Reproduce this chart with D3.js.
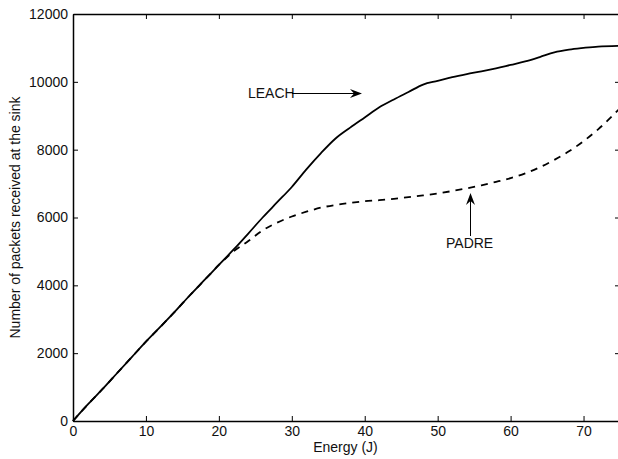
<!DOCTYPE html>
<html>
<head>
<meta charset="utf-8">
<script src="https://cdn.jsdelivr.net/npm/d3@7"></script>
<style>
  body { margin: 0; background: #fff; }
  svg { display: block; }
  text { font-family: "Liberation Sans", Arial, Helvetica, sans-serif; font-size: 14px; fill: #111; }
</style>
</head>
<body>
<svg id="chart" width="618" height="459"></svg>
<script>
// values
var energy = [0, 2, 4, 6, 8, 10, 12, 14, 16, 18, 20, 22, 24, 26, 28, 30, 32, 34, 36, 38, 40,
              42, 44, 46, 48, 50, 52, 54, 56, 58, 60, 62, 64, 66, 68, 70, 72, 75];
var leach  = [0, 480, 930, 1400, 1870, 2340, 2780, 3230, 3700, 4150, 4600, 5050, 5520, 6000, 6450, 6900, 7420, 7900, 8330, 8650, 8950,
              9250, 9480, 9700, 9920, 10030, 10140, 10230, 10310, 10400, 10500, 10600, 10730, 10870, 10950, 11000, 11040, 11060];
var padre  = [0, 480, 930, 1400, 1870, 2340, 2780, 3230, 3700, 4150, 4600, 5000, 5300, 5620, 5850, 6030, 6170, 6290, 6370, 6430, 6480,
              6510, 6550, 6600, 6650, 6710, 6780, 6860, 6950, 7050, 7160, 7300, 7480, 7700, 7950, 8250, 8600, 9220];
var xTicks = [0, 10, 20, 30, 40, 50, 60, 70];
var yTicks = [0, 2000, 4000, 6000, 8000, 10000, 12000];

var mLeft = 73, mTop = 14, mRight = 620, mBottom = 421;

var svg = d3.select("#chart");

var x = d3.scaleLinear().domain([0, 75]).range([mLeft, mRight]);
var y = d3.scaleLinear().domain([0, 12000]).range([mBottom, mTop]);

// axes, matlab style ticks pointing inward on all four sides
var axStyle = function(g) {
    g.select(".domain").attr("stroke", "#000").attr("stroke-width", 1.5);
    g.selectAll(".tick line").attr("stroke", "#000").attr("stroke-width", 1);
    g.attr("font-size", null).attr("font-family", null);
};

svg.append("g")
   .attr("transform", "translate(0," + mBottom + ")")
   .call(d3.axisBottom(x).tickValues(xTicks).tickSizeInner(-5).tickSizeOuter(0).tickPadding(5).tickFormat(d3.format("d")))
   .call(axStyle);

svg.append("g")
   .attr("transform", "translate(" + mLeft + ",0)")
   .call(d3.axisLeft(y).tickValues(yTicks).tickSizeInner(-5).tickSizeOuter(0).tickPadding(5).tickFormat(d3.format("d")))
   .call(axStyle);

svg.append("g")
   .attr("transform", "translate(0," + mTop + ")")
   .call(d3.axisTop(x).tickValues(xTicks).tickSizeInner(-5).tickSizeOuter(0).tickFormat(""))
   .call(axStyle);

svg.append("g")
   .attr("transform", "translate(" + mRight + ",0)")
   .call(d3.axisRight(y).tickValues(yTicks).tickSizeInner(-5).tickSizeOuter(0).tickFormat(""))
   .call(axStyle);

svg.selectAll(".tick text").attr("fill", "#111");

// curves
var line = d3.line()
    .x(function(d, i) { return x(energy[i]); })
    .y(function(d) { return y(d); })
    .curve(d3.curveMonotoneX);

svg.append("path")
   .datum(padre)
   .attr("d", line)
   .attr("fill", "none")
   .attr("stroke", "#000")
   .attr("stroke-width", 1.8)
   .attr("stroke-dasharray", "7,6");

svg.append("path")
   .datum(leach)
   .attr("d", line)
   .attr("fill", "none")
   .attr("stroke", "#000")
   .attr("stroke-width", 1.8);

// annotations
function arrowHead(tx, ty, angle) {
    svg.append("path")
       .attr("d", "M0,0 L-12,-4.5 L-8,0 L-12,4.5 Z")
       .attr("fill", "#000")
       .attr("transform", "translate(" + tx + "," + ty + ") rotate(" + angle + ")");
}

svg.append("text").attr("x", 248).attr("y", 98).text("LEACH");
svg.append("line")
   .attr("x1", 292).attr("y1", 93.5).attr("x2", 356).attr("y2", 93.5)
   .attr("stroke", "#000").attr("stroke-width", 1);
arrowHead(362, 93.5, 0);

svg.append("text").attr("x", 446).attr("y", 248).text("PADRE");
svg.append("line")
   .attr("x1", 470.5).attr("y1", 236).attr("x2", 470.5).attr("y2", 199)
   .attr("stroke", "#000").attr("stroke-width", 1);
arrowHead(470.5, 193, -90);

// axis titles
svg.append("text")
   .attr("x", (mLeft + mRight) / 2 - 1)
   .attr("y", 452)
   .attr("text-anchor", "middle")
   .text("Energy (J)");

svg.append("text")
   .attr("transform", "translate(20," + ((mTop + mBottom) / 2) + ") rotate(-90)")
   .attr("text-anchor", "middle")
   .text("Number of packets received at the sink");
</script>
</body>
</html>
